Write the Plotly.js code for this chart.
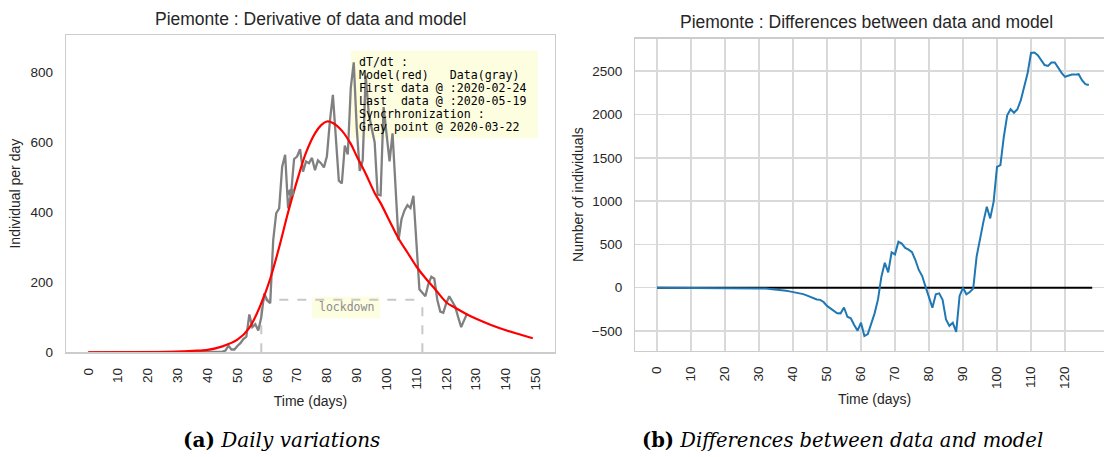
<!DOCTYPE html>
<html>
<head>
<meta charset="utf-8">
<script src="https://cdn.plot.ly/plotly-3.0.1.min.js"></script>
<style>
html,body{margin:0;padding:0;background:#fff;overflow:hidden;width:1104px;height:457px;}
#chart{width:1120px;height:457px;}
</style>
</head>
<body>
<div id="chart"></div>
<script>
// ---------- data ----------
// Left: daily variation of data (gray), day index 0..127
const grayValues = [
  0,0,0,0,0,0,0,0,0,0, 0,0,0,0,0,0,0,0,0,0,
  0,0,0,0,0,0,0,0,0,0, 0,0,0,0,0,0,0,0,0,0,
  0,0,0,
  0,0,2,5,19,8,8,18,26,38,
  45,108,72,80,62,100,168,148,140,320,
  397,411,530,564,411,454,552,559,580,516,
  545,540,555,520,548,540,528,560,660,735,
  610,490,482,590,565,755,828,640,518,548,
  790,685,640,600,450,448,700,620,545,625,
  470,320,380,405,420,412,447,300,180,170,
  160,195,216,210,150,116,113,140,160,145,
  130,100,72,92,111
];
// Left: model (red)
const modelDays   = [0,20,30,35,40,45,50,54,58,61,64,67,70,73,76,78,80,82,85,88,90,93,96,98,101,104,107,110,113,116,120,123,127,131,135,140,145,149];
const modelValues = [0,0.5,2,4,7,17,36,70,140,210,300,400,490,570,625,648,659,655,633,595,560,510,455,426,375,325,285,245,212,183,143,127,108,92,78,63,50,40];
// synchronization gray point
const syncDay = [68];
const syncValue = [456];
// lockdown
const lockdownDays = [58, 112];
const lockdownLevel = 150;

// Right: differences between data and model, day index 0..127
const diffValues = [
  0,0,0,0,0,0,0,0,0,0,
  0,0,0,0,0,0,0,0,0,0,
  0,0,0,0,0,-1,-1,-2,-3,-4,
  -6,-8,-10,-13,-16,-20,-25,-30,-36,-42,
  -48,-56,-64,-74,-88,-104,-120,-135,-140,-165,
  -210,-238,-265,-294,-296,-228,-335,-352,-430,-496,
  -404,-558,-535,-411,-296,-135,127,288,177,408,
  385,530,510,460,440,410,320,205,135,10,
  -105,-230,-75,-65,-140,-365,-440,-405,-510,-95,
  0,-75,-50,-10,360,570,760,935,800,990,
  1395,1415,1740,1990,2060,2020,2060,2165,2320,2475,
  2710,2715,2685,2620,2570,2560,2600,2600,2535,2480,
  2435,2450,2460,2460,2465,2395,2350,2340
];
const zeroLineX = [0, 128];
const zeroLineY = [0, 0];

const leftTicks = [0,10,20,30,40,50,60,70,80,90,100,110,120,130,140,150];
const leftYTicks = [0,200,400,600,800];
const rightTicks = [0,10,20,30,40,50,60,70,80,90,100,110,120];
const rightYTicks = [-500,0,500,1000,1500,2000,2500];

const infoLines = [
  "dT/dt :",
  "Model(red)   Data(gray)",
  "First data @ :2020-02-24",
  "Last  data @ :2020-05-19",
  "Syncrhronization :",
  "Gray point @ 2020-03-22"
];

// ---------- layout helpers ----------
const W = 1120, H = 457;
const px = v => v / W;
const py = v => (H - v) / H;
const sans = "Liberation Sans, Arial, sans-serif";
const mono = "DejaVu Sans Mono, monospace";
const tickFont = {family: sans, size: 13.5, color: "#262626"};
const nb = s => s.replace(/ /g, "\u00A0");

const dayIdx = arr => arr.map((_, i) => i);

const traces = [
  {x: dayIdx(grayValues), y: grayValues, xaxis: "x", yaxis: "y", mode: "lines",
   line: {color: "#808080", width: 2.3}, hoverinfo: "skip"},
  {x: modelDays, y: modelValues, xaxis: "x", yaxis: "y", mode: "lines",
   line: {color: "#ff0000", width: 2.2, shape: "spline", smoothing: 1}, hoverinfo: "skip"},
  {x: syncDay, y: syncValue, xaxis: "x", yaxis: "y", mode: "markers",
   marker: {color: "#808080", size: 7}, hoverinfo: "skip"},
  {x: zeroLineX, y: zeroLineY, xaxis: "x2", yaxis: "y2", mode: "lines",
   line: {color: "#000000", width: 2}, hoverinfo: "skip"},
  {x: dayIdx(diffValues), y: diffValues, xaxis: "x2", yaxis: "y2", mode: "lines",
   line: {color: "#1f77b4", width: 2}, hoverinfo: "skip"}
];

const shapes = [
  // info box background
  {type: "rect", xref: "paper", yref: "paper", x0: px(351), x1: px(537.7), y0: py(138.3), y1: py(50.7),
   fillcolor: "#fdfde0", line: {width: 0}, layer: "below"},
  // lockdown label background
  {type: "rect", xref: "paper", yref: "paper", x0: px(312.3), x1: px(380), y0: py(318.3), y1: py(296.7),
   fillcolor: "#fdfde0", line: {width: 0}, layer: "below"},
  // lockdown dashed lines
  {type: "line", xref: "x", yref: "y", x0: lockdownDays[0], x1: lockdownDays[0], y0: 0, y1: lockdownLevel,
   line: {color: "#c8c8c8", width: 2, dash: "dash"}, layer: "below"},
  {type: "line", xref: "x", yref: "y", x0: lockdownDays[1], x1: lockdownDays[1], y0: 0, y1: lockdownLevel,
   line: {color: "#c8c8c8", width: 2, dash: "dash"}, layer: "below"},
  {type: "line", xref: "x", yref: "y", x0: lockdownDays[0], x1: lockdownDays[1], y0: lockdownLevel, y1: lockdownLevel,
   line: {color: "#c8c8c8", width: 2, dash: "dash"}, layer: "below"}
];

const annotations = [
  {xref: "paper", yref: "paper", x: px(310.5), y: py(19), text: "Piemonte : Derivative of data and model",
   showarrow: false, xanchor: "center", yanchor: "middle", font: {family: sans, size: 17.5, color: "#262626"}},
  {xref: "paper", yref: "paper", x: px(866), y: py(22), text: "Piemonte : Differences between data and model",
   showarrow: false, xanchor: "center", yanchor: "middle", font: {family: sans, size: 17.5, color: "#262626"}},
  {xref: "paper", yref: "paper", x: px(346), y: py(307), text: "lockdown",
   showarrow: false, xanchor: "center", yanchor: "middle", font: {family: mono, size: 11.5, color: "#8c8c8c"}},
  {xref: "paper", yref: "paper", x: px(281.7), y: py(440), text: "<b>(a)</b> <i>Daily variations</i>",
   showarrow: false, xanchor: "center", yanchor: "middle", font: {family: "DejaVu Serif, serif", size: 20, color: "#000"}},
  {xref: "paper", yref: "paper", x: px(842), y: py(440), text: "<b>(b)</b> <i>Differences between data and model</i>",
   showarrow: false, xanchor: "center", yanchor: "middle", font: {family: "DejaVu Serif, serif", size: 19.5, color: "#000"}}
];
infoLines.forEach((t, i) => {
  annotations.push({xref: "paper", yref: "paper", x: px(356.7), y: py(61.7 + 13 * i), text: nb(t),
    showarrow: false, xanchor: "left", yanchor: "middle", font: {family: mono, size: 11.6, color: "#000"}});
});

const axisCommon = {
  showline: true, mirror: true, linecolor: "#cccccc", linewidth: 1.3,
  zeroline: false, ticks: "", tickfont: tickFont, ticklabelstandoff: 9, fixedrange: true
};

const layout = {
  width: W, height: H,
  margin: {l: 0, r: 0, t: 0, b: 0},
  paper_bgcolor: "#ffffff", plot_bgcolor: "#ffffff",
  showlegend: false,
  xaxis: Object.assign({}, axisCommon, {
    domain: [px(66), px(555)], range: [-7.45, 156.45], anchor: "y",
    tickmode: "array", tickvals: leftTicks, ticktext: leftTicks.map(String), tickangle: -90,
    showgrid: false,
    title: {text: "Time (days)", font: {family: sans, size: 14, color: "#262626"}, standoff: 6}
  }),
  yaxis: Object.assign({}, axisCommon, {
    domain: [py(352.3), py(35)], range: [0, 906], anchor: "x",
    tickmode: "array", tickvals: leftYTicks, ticktext: leftYTicks.map(String),
    showgrid: false,
    title: {text: "Individual per day", font: {family: sans, size: 14, color: "#262626"}, standoff: 6}
  }),
  xaxis2: Object.assign({}, axisCommon, {
    domain: [px(635.24), px(1113.96)], range: [-6.4, 134.4], anchor: "y2",
    tickmode: "array", tickvals: rightTicks, ticktext: rightTicks.map(String), tickangle: -90,
    showgrid: true, gridcolor: "#d9d9d9", gridwidth: 1.5,
    title: {text: "Time (days)", font: {family: sans, size: 14, color: "#262626"}, standoff: 6}
  }),
  yaxis2: Object.assign({}, axisCommon, {
    domain: [py(350.7), py(38.5)], range: [-727, 2877], anchor: "x2",
    tickmode: "array", tickvals: rightYTicks,
    showgrid: true, gridcolor: "#d9d9d9", gridwidth: 1.5,
    title: {text: "Number of individuals", font: {family: sans, size: 14, color: "#262626"}, standoff: 5}
  }),
  shapes: shapes,
  annotations: annotations
};

Plotly.newPlot("chart", traces, layout, {staticPlot: true, displayModeBar: false});
</script>
</body>
</html>
